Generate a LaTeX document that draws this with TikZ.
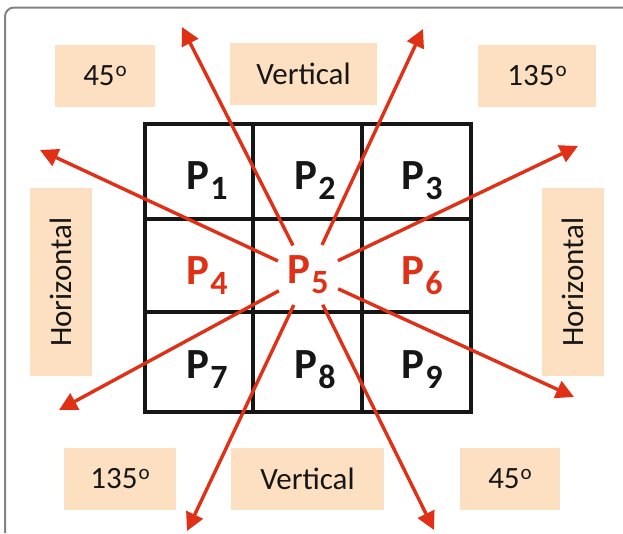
\documentclass[tikz,border=0pt]{standalone}
\usepackage{fontspec}
\setmainfont{Carlito}
\usetikzlibrary{arrows.meta, positioning}
\definecolor{rayC}  {RGB}{224,  48,  22}
\definecolor{boxC}  {RGB}{253, 224, 193}
\definecolor{gridC} {RGB}{ 22,  22,  22}
\definecolor{frameC}{RGB}{130, 130, 130}
\newcommand{\pcell}[1]{P\hspace{1pt}\raisebox{-10pt}{\fontsize{34}{34}\selectfont #1}}
\newcommand{\degr}{\hspace{1pt}\raisebox{9pt}{\fontsize{21}{21}\selectfont o}}
\tikzset{
  gridline/.style = {line width=4pt, color=gridC, line cap=rect},
  ray/.style      = {-{Triangle[length=18pt, width=18pt]}, line width=3.4pt, color=rayC},
  dirbox/.style   = {fill=boxC, inner sep=0pt, minimum height=62pt, text=gridC,
                     font=\fontsize{31}{31}\selectfont},
  plbl/.style     = {inner sep=0pt, text=gridC, font=\fontsize{43}{43}\selectfont\bfseries},
  hub/.style      = {circle, minimum size=66pt, inner sep=0pt},
}
\begin{document}
\begin{tikzpicture}[x=1pt, y=-1pt]

% ---- Page and frame ---------------------------------------------------------
\useasboundingbox (0,0) rectangle (623,533);
\draw[frameC, line width=2pt, rounded corners=9pt] (5,533) -- (5,7.5) -- (623,7.5);

% ---- Direction boxes --------------------------------------------------------
\node[dirbox, minimum width=100pt] (d45top)  at (105,76)   {45\degr};
\node[dirbox, minimum width=147pt] (vtop)    at (303.5,74) {Vertical};
\node[dirbox, minimum width=118pt] (d135top) at (537,76)   {135\degr};
\node[dirbox, minimum width=188pt, rotate=90] (hleft)  at (61,282)  {Horizontal};
\node[dirbox, minimum width=188pt, rotate=90] (hright) at (573,282) {Horizontal};
\node[dirbox, minimum width=112pt] (d135bot) at (120,479)   {135\degr};
\node[dirbox, minimum width=153pt] (vbot)    at (307.5,479) {Vertical};
\node[dirbox, minimum width=100pt] (d45bot)  at (510,479)   {45\degr};

% ---- 3x3 neighbourhood ------------------------------------------------------
\foreach \x in {145,253,362,471}
  \draw[gridline] (\x,124) -- (\x,412);
\foreach \y in {124,219,312,412}
  \draw[gridline] (145,\y) -- (471,\y);

\node[plbl] (p1) at (207,181) {\pcell{1}};
\node[plbl] (p2) at (315,181) {\pcell{2}};
\node[plbl] (p3) at (422,181) {\pcell{3}};
\node[plbl, text=rayC] (p4) at (207,276) {\pcell{4}};
\node[plbl, hub, text=rayC] (p5) at (308,275) {\pcell{5}};
\node[plbl, text=rayC] (p6) at (422,276) {\pcell{6}};
\node[plbl] (p7) at (207,370) {\pcell{7}};
\node[plbl] (p8) at (315,370) {\pcell{8}};
\node[plbl] (p9) at (422,370) {\pcell{9}};

% ---- Rays from the centre pixel ---------------------------------------------
\coordinate (tUL) at (182,27);
\coordinate (tUR) at (423,29);
\coordinate (tLU) at (40,150);
\coordinate (tRU) at (578,146);
\coordinate (tLD) at (59,410);
\coordinate (tRD) at (574,397);
\coordinate (tDL) at (187,531);
\coordinate (tDR) at (434,530);

\foreach \t in {tUL,tUR,tLU,tRU,tLD,tRD,tDL,tDR}
  \draw[ray] (p5) -- (\t);

\end{tikzpicture}
\end{document}
